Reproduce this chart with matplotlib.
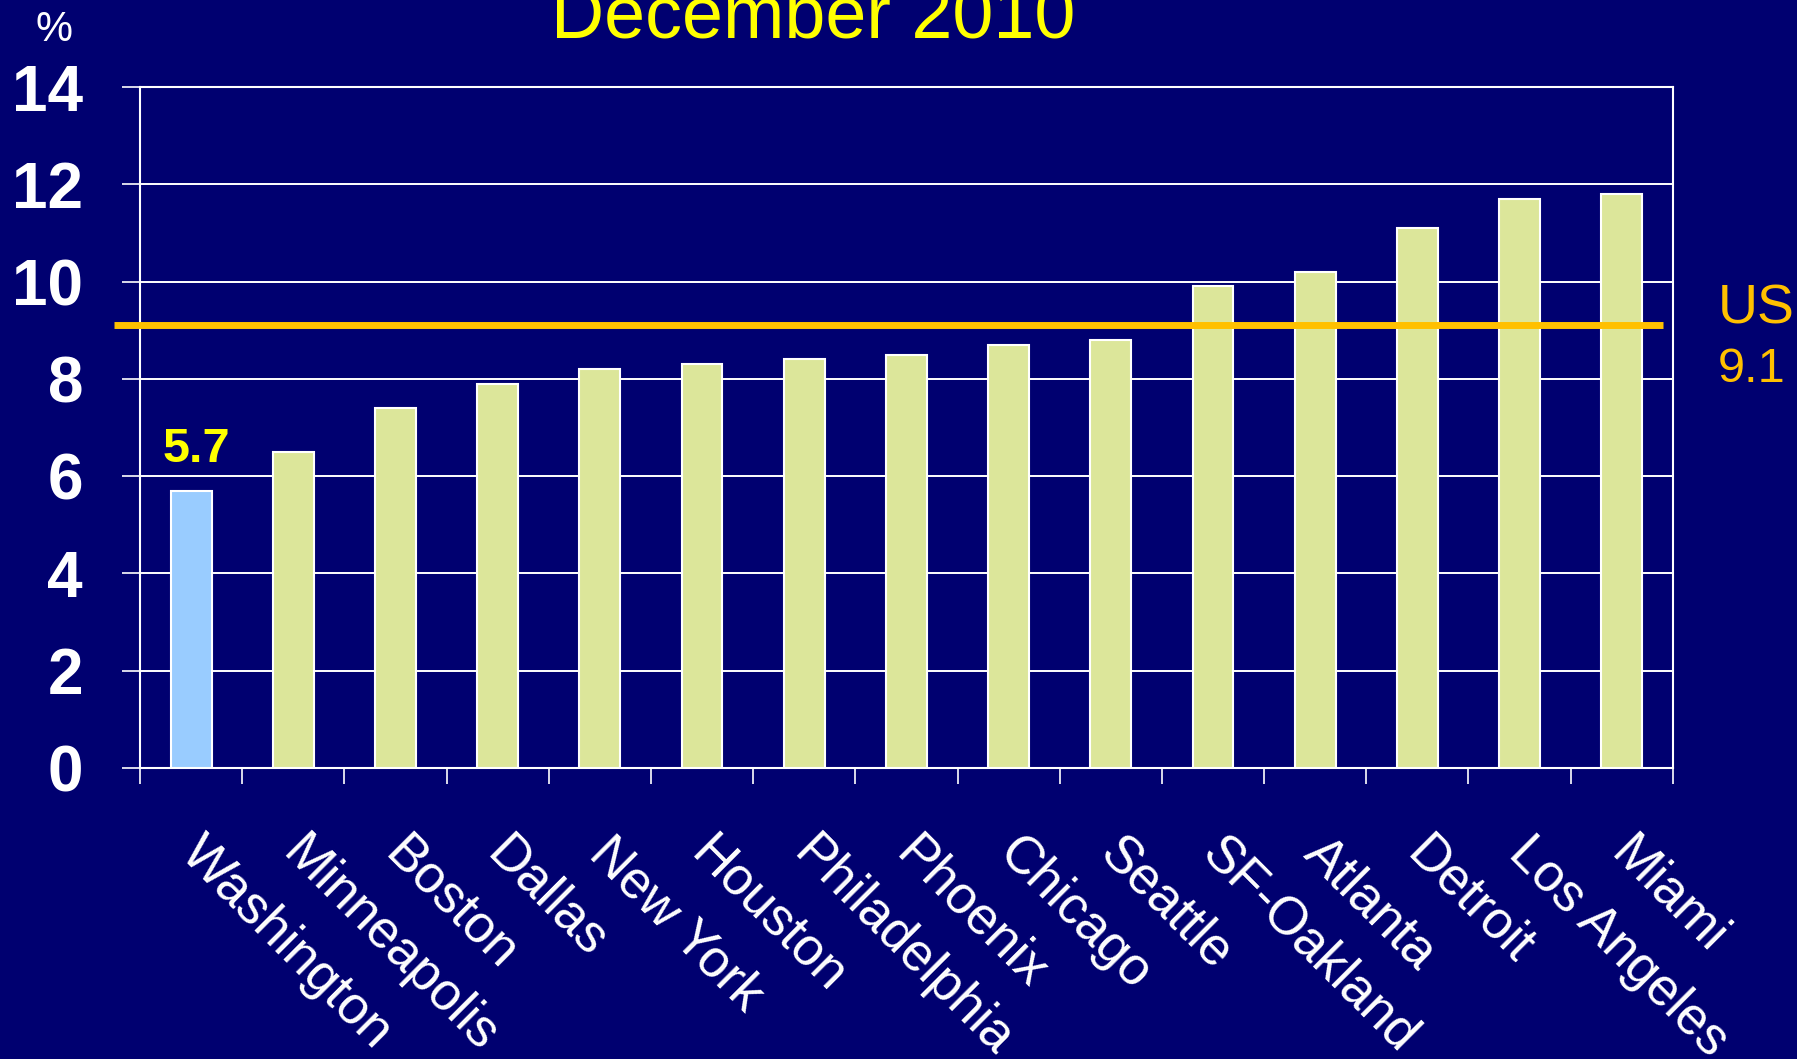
import numpy as np
import matplotlib
matplotlib.use("Agg")
import matplotlib.pyplot as plt
from matplotlib.transforms import ScaledTranslation

# data
cities = ["Washington", "Minneapolis", "Boston", "Dallas", "New York", "Houston",
          "Philadelphia", "Phoenix", "Chicago", "Seattle", "SF-Oakland", "Atlanta",
          "Detroit", "Los Angeles", "Miami"]
rates = [5.7, 6.5, 7.4, 7.9, 8.2, 8.3, 8.4, 8.5, 8.7, 8.8, 9.9, 10.2, 11.1, 11.7, 11.8]
us_rate = 9.1
y_ticks = [0, 2, 4, 6, 8, 10, 12, 14]

navy = "#000070"
plt.rcParams['font.family'] = ['Liberation Sans', 'DejaVu Sans']

fig = plt.figure(figsize=(17.97, 10.59), dpi=100, facecolor=navy)
ax = fig.add_axes([0.0779, 0.2748, 0.8530, 0.6430])
ax.set_facecolor(navy)

x = np.arange(len(cities))
colors = ["#99CCFF"] + ["#DCE69A"] * (len(cities) - 1)
ax.bar(x, rates, width=0.4, color=colors, edgecolor="white", linewidth=1.5, zorder=3)

# US average line, runs a bit past the left axis
ax.plot([-0.75, 14.4], [us_rate, us_rate], color="#FFC000", linewidth=5,
        zorder=4, clip_on=False, solid_capstyle="butt")

ax.set_xlim(-0.5, len(cities) - 0.5)
ax.set_ylim(0, 14)

ax.set_yticks(y_ticks)
ax.set_yticklabels([str(t) for t in y_ticks], fontsize=46, fontweight="bold", color="white")
ax.tick_params(axis="y", colors="white", length=13, width=1.2, pad=28)
ax.yaxis.grid(True, color="white", linewidth=1.4, zorder=0)
ax.set_axisbelow(True)

# ticks between the bars, names under the bars
ax.set_xticks(np.arange(-0.5, len(cities), 1))
ax.set_xticklabels([])
ax.tick_params(axis="x", which="major", colors="white", length=11.5, width=1.2)
ax.set_xticks(x, minor=True)
ax.set_xticklabels(cities, minor=True, rotation=-45, ha="left", va="top",
                   rotation_mode="anchor", fontsize=38, color="white")
ax.tick_params(axis="x", which="minor", length=0, pad=43)
for lbl in ax.get_xticklabels(minor=True):
    lbl.set_transform(lbl.get_transform() + ScaledTranslation(0.15, 0, fig.dpi_scale_trans))

for s in ax.spines.values():
    s.set_color("white")
    s.set_linewidth(1.5)

ax.text(0.05, 6.3, "5.7", ha="center", va="baseline", fontsize=35,
        fontweight="bold", color="#FFFF00")

fig.text(813 / 1797, 1 - 37 / 1059, "December 2010", ha="center", va="baseline",
         fontsize=53, color="#FFFF00")
fig.text(54 / 1797, 1 - 41 / 1059, "%", ha="center", va="baseline", fontsize=30, color="white")
fig.text(1718 / 1797, 1 - 323 / 1059, "US", ha="left", va="baseline", fontsize=40, color="#FFC000")
fig.text(1718 / 1797, 1 - 382 / 1059, "9.1", ha="left", va="baseline", fontsize=35, color="#FFC000")

fig.savefig("out.png", dpi=100, facecolor=navy)
